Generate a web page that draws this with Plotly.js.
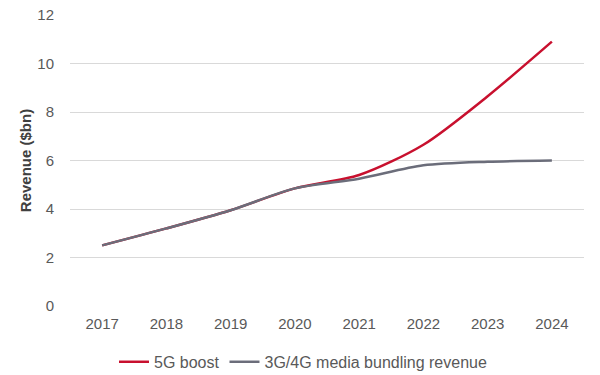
<!DOCTYPE html>
<html><head><meta charset="utf-8">
<script src="https://cdn.plot.ly/plotly-3.0.1.min.js"></script>
<style>html,body{margin:0;padding:0;background:#fff}#chart{width:600px;height:375px}</style>
</head><body><div id="chart"></div>
<script>
const years = ['2017','2018','2019','2020','2021','2022','2023','2024'];
const boost5G = [2.5, 3.2, 3.95, 4.85, 5.4, 6.65, 8.65, 10.9];
const bundling = [2.5, 3.2, 3.95, 4.85, 5.25, 5.8, 5.95, 6.0];
const seriesNames = ['5G boost', '3G/4G media bundling revenue'];

const fam = 'Liberation Sans, Arial, sans-serif';
const tickFont = {family: fam, size: 15, color: '#595959'};
const data = [
  {x: years, y: boost5G, name: seriesNames[0], type: 'scatter', mode: 'lines',
   line: {color: '#c8102e', width: 2.5, shape: 'spline', smoothing: 0.8}},
  {x: years, y: bundling, name: seriesNames[1], type: 'scatter', mode: 'lines',
   line: {color: '#6b6d7a', width: 2.5, shape: 'spline', smoothing: 0.8}}
];
const layout = {
  width: 600, height: 375,
  margin: {l: 70, r: 16, t: 15, b: 69, autoexpand: false},
  paper_bgcolor: '#fff', plot_bgcolor: '#fff',
  font: tickFont,
  showlegend: true,
  legend: {orientation: 'h', xref: 'container', x: 0.505, xanchor: 'center',
           yref: 'container', y: 0.035, yanchor: 'middle',
           font: {family: fam, size: 16, color: '#595959'}, itemwidth: 30, tracegroupgap: 0},
  xaxis: {type: 'category', range: [-0.5, 7.5], tickfont: tickFont, showgrid: false, zeroline: false,
          showline: false, ticks: 'outside', ticklen: 4, tickcolor: 'rgba(0,0,0,0)', automargin: false},
  yaxis: {range: [0, 12], dtick: 2, tickfont: tickFont, gridcolor: '#d9d9d9', gridwidth: 1,
          zeroline: false, showline: false, ticks: 'outside', ticklen: 12, tickcolor: 'rgba(0,0,0,0)',
          automargin: false,
          title: {text: '<b>Revenue ($bn)</b>', font: {family: fam, size: 15, color: '#404040'}, standoff: 2}}
};
Plotly.newPlot('chart', data, layout, {displayModeBar: false, staticPlot: true});
</script></body></html>
